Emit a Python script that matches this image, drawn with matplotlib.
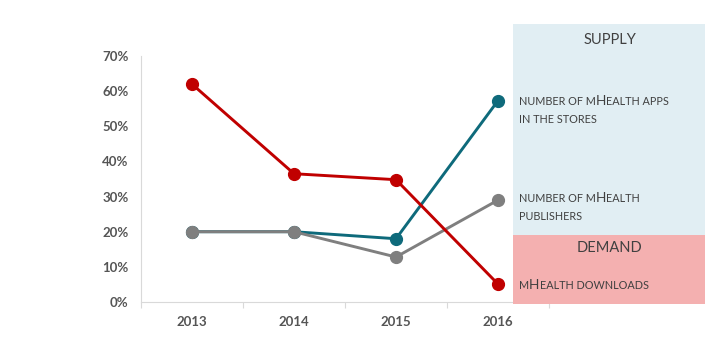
import re
import matplotlib
matplotlib.use("Agg")
import matplotlib.pyplot as plt
from matplotlib.patches import Rectangle
from matplotlib.text import Annotation
from matplotlib.ticker import PercentFormatter

years = ["2013", "2014", "2015", "2016"]
apps_in_stores = [0.20, 0.20, 0.18, 0.573]
publishers = [0.20, 0.20, 0.128, 0.29]
downloads = [0.62, 0.365, 0.348, 0.051]

teal = "#0e6a7b"
grey = "#7f7f7f"
red = "#c00000"
txt_col = "#404040"

plt.rcParams["font.family"] = ["Lato", "DejaVu Sans"]

W, H = 720, 339
fig = plt.figure(figsize=(7.2, 3.39), dpi=100)
ax = fig.add_axes([141 / W, (H - 302) / H, (549 - 141) / W, (302 - 56) / H])

x = list(range(len(years)))
for vals, col in [(apps_in_stores, teal), (publishers, grey), (downloads, red)]:
    ax.plot(x, vals, color=col, lw=2.1, marker="o", ms=8.5, zorder=3)

ax.set_xlim(-0.5, 3.5)
ax.set_ylim(0, 0.7)
ax.set_yticks([i / 10 for i in range(8)])
ax.yaxis.set_major_formatter(PercentFormatter(1.0, decimals=0))
ax.tick_params(axis="y", length=0, pad=9, labelsize=9.5, labelcolor="#555555")
ax.set_xticks([-0.5, 0.5, 1.5, 2.5, 3.5])
ax.set_xticklabels([])
ax.set_xticks(x, minor=True)
ax.set_xticklabels(years, minor=True)
ax.tick_params(axis="x", which="major", length=4, color="#d9d9d9")
ax.tick_params(axis="x", which="minor", length=0, pad=10, labelsize=9.5, labelcolor="#555555")
for lab in ax.get_yticklabels() + ax.get_xticklabels(minor=True):
    lab.set_fontweight("bold")
for s in ["top", "right"]:
    ax.spines[s].set_visible(False)
for s in ["left", "bottom"]:
    ax.spines[s].set_color("#d9d9d9")

# supply / demand panel on the right
def px(xp, yp):
    return xp / W, 1 - yp / H

fig.patches.append(Rectangle(px(513, 235), 192 / W, 211 / H, transform=fig.transFigure,
                             facecolor="#e1eef3", edgecolor="none", zorder=5))
fig.patches.append(Rectangle(px(513, 304), 192 / W, 69 / H, transform=fig.transFigure,
                             facecolor="#f4b0b0", edgecolor="none", zorder=5))

fig.text(*px(610, 40), "SUPPLY", ha="center", va="center", fontsize=10.5, color=txt_col, zorder=6)
fig.text(*px(610, 248), "DEMAND", ha="center", va="center", fontsize=10.5, color=txt_col, zorder=6)


def small_caps(xp, yp, s, size=9.8):
    prev = None
    for run in re.findall(r"[A-Z]+|[^A-Z]+", s):
        fs = size if run.isupper() else size * 0.8
        if prev is None:
            prev = fig.text(*px(xp, yp), run.upper(), fontsize=fs, color=txt_col,
                            va="bottom", ha="left", zorder=6)
        else:
            prev = fig.add_artist(Annotation(run.upper(), xy=(1, 0), xycoords=prev,
                                             fontsize=fs, color=txt_col, va="bottom",
                                             ha="left", zorder=6))


small_caps(519, 107, "number of mHealth apps")
small_caps(519, 125, "in the stores")
small_caps(519, 204, "number of mHealth")
small_caps(519, 222, "publishers")
small_caps(519, 291, "mHealth downloads")

fig.savefig("out.png", dpi=100)
